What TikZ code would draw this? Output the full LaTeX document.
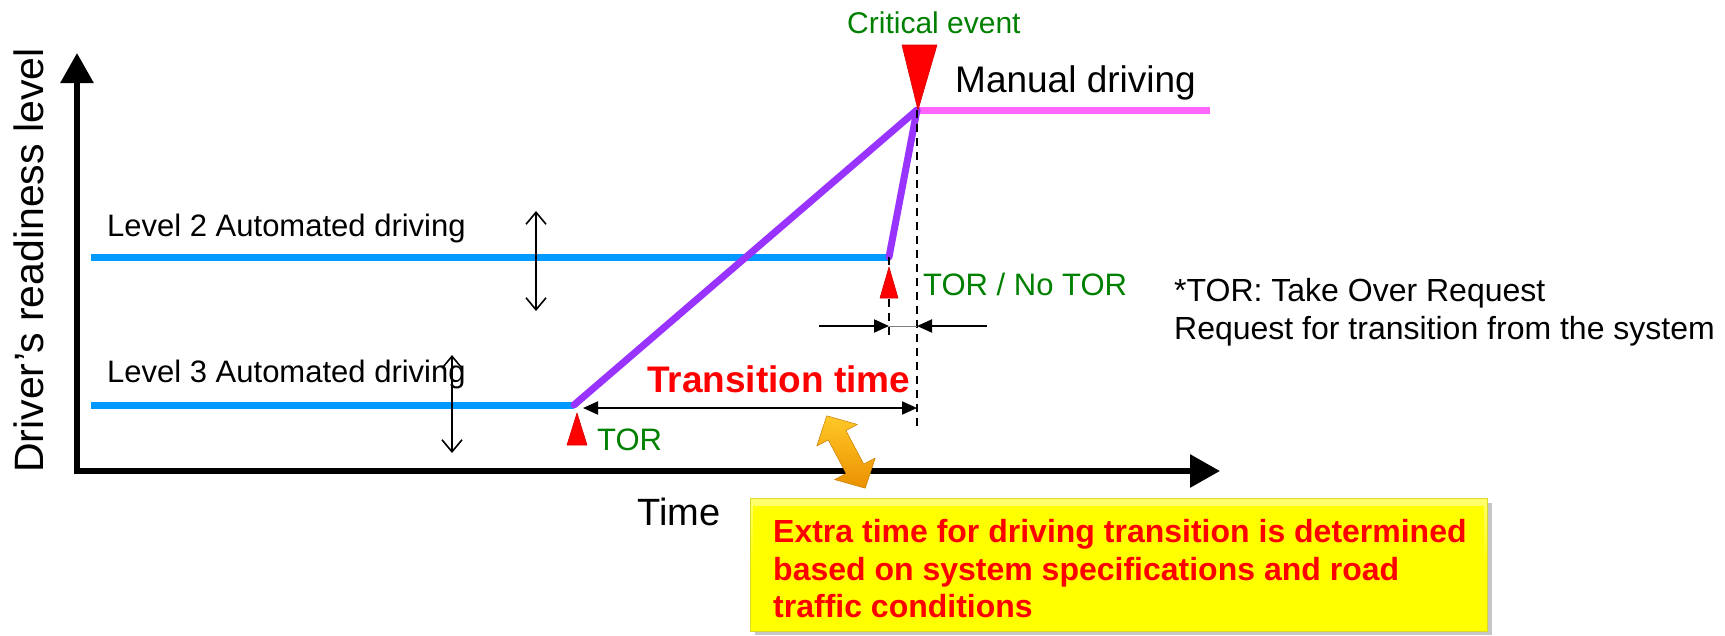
\documentclass[tikz,border=0pt]{standalone}
\usepackage{fontspec}
\setmainfont{Liberation Sans}
\usetikzlibrary{arrows.meta}
\definecolor{lvlblue}{RGB}{0,153,255}
\definecolor{trpurple}{RGB}{153,51,255}
\definecolor{manpink}{RGB}{255,102,255}
\definecolor{evgreen}{RGB}{0,128,0}
\definecolor{alertred}{RGB}{255,0,0}
\definecolor{boxyellow}{RGB}{255,255,0}
\definecolor{arrowlight}{RGB}{255,200,40}
\definecolor{arrowdark}{RGB}{235,145,0}
\begin{document}
\begin{tikzpicture}[x=1pt,y=-1pt,
  lbl/.style={inner sep=0pt, anchor=base west},
  axisline/.style={line width=6pt, line join=miter,
    {Triangle[width=32pt,length=30pt]}-{Triangle[width=32pt,length=30pt]}},
  levelline/.style={line width=7pt, lvlblue},
  purpleline/.style={line width=7pt, trpurple, line cap=round},
  manualline/.style={line width=7pt, manpink},
  guide/.style={line width=2pt, dash pattern=on 8pt off 6pt},
  dimarrow/.style={line width=2pt, {Triangle[width=13pt,length=15pt]}-{Triangle[width=13pt,length=15pt]}},
  inarrow/.style={line width=2pt, -{Triangle[width=13pt,length=15pt]}},
  rangearrow/.style={line width=1.6pt, {Straight Barb[width=20pt,length=12pt]}-{Straight Barb[width=20pt,length=12pt]}},
  marker/.style={fill=alertred, draw=alertred!85!black, line width=0.6pt, line join=round},
]
\useasboundingbox (0,0) rectangle (1725,635);

% axes
\coordinate (origin) at (77,471);
\coordinate (ytip) at (77,53);
\coordinate (xtip) at (1220,471);
\draw[axisline] (ytip) -- (origin) -- (xtip);

\node[lbl, rotate=90, font=\fontsize{41}{41}\selectfont] (ylabel) at (43,473) {Driver’s readiness level};
\node[lbl, font=\fontsize{38}{38}\selectfont] (xlabel) at (637,525) {Time};

% automation levels
\coordinate (l2start) at (91,257);
\coordinate (l2end) at (889,257);
\coordinate (l3start) at (91,405);
\coordinate (l3end) at (574,405);
\coordinate (handover) at (917,110);
\coordinate (manend) at (1210,110);

\draw[levelline] (l2start) -- (l2end);
\draw[levelline] (l3start) -- (l3end);
\draw[manualline] (handover) -- (manend);
\draw[purpleline] (l3end) -- (handover);
\draw[purpleline] (l2end) -- (handover);

\node[lbl, font=\fontsize{31}{31}\selectfont] (l2text) at (107,236) {Level 2 Automated driving};
\node[lbl, font=\fontsize{31}{31}\selectfont] (l3text) at (107,382) {Level 3 Automated driving};

% readiness ranges
\coordinate (r2top) at (536,211);
\coordinate (r2bot) at (536,311);
\coordinate (r3top) at (452,355);
\coordinate (r3bot) at (452,453);
\draw[rangearrow] (r2top) -- (r2bot);
\draw[rangearrow] (r3top) -- (r3bot);

% critical event
\draw[marker] (902,45) -- (937,45) -- (918,110) -- cycle;
\node[lbl, font=\fontsize{30}{30}\selectfont, text=evgreen] (crit) at (847,33) {Critical event};
\node[lbl, font=\fontsize{37}{37}\selectfont] (manual) at (955,92) {Manual driving};

% guide lines
\coordinate (g1top) at (917,110);
\coordinate (g1bot) at (917,427);
\coordinate (g2top) at (889,257);
\coordinate (g2bot) at (889,338);
\draw[guide] (g1top) -- (g1bot);
\draw[guide] (g2top) -- (g2bot);

% level 2 take over request
\draw[marker] (889,267) -- (898,298) -- (880,298) -- cycle;
\node[lbl, font=\fontsize{31}{31}\selectfont, text=evgreen] (tor2) at (923,295) {TOR / No TOR};
\coordinate (inL) at (819,326);
\coordinate (inLtip) at (889,326);
\coordinate (inR) at (987,326);
\coordinate (inRtip) at (917,326);
\draw[inarrow] (inL) -- (inLtip);
\draw[inarrow] (inR) -- (inRtip);
\draw[line width=1pt, gray] (inLtip) -- (inRtip);

% level 3 take over request and transition time
\draw[marker] (577,413) -- (587,445) -- (567,445) -- cycle;
\node[lbl, font=\fontsize{31}{31}\selectfont, text=evgreen] (tor3) at (597,450) {TOR};
\coordinate (tstart) at (583,408);
\coordinate (tend) at (917,408);
\draw[dimarrow] (tstart) -- (tend);
\node[lbl, font=\bfseries\fontsize{37}{37}\selectfont, text=alertred] (ttime) at (647,392) {Transition time};

% footnote
\node[lbl, font=\fontsize{32}{32}\selectfont] (fn1) at (1174,301) {*TOR: Take Over Request};
\node[lbl, font=\fontsize{32}{32}\selectfont] (fn2) at (1174,339) {Request for transition from the system};

% note box
\fill[gray!45] (755,503) rectangle (1492,635);
\shade[top color=boxyellow!55!white, bottom color=boxyellow, middle color=boxyellow]
  (750,498) rectangle (1487,631);
\fill[boxyellow] (753,506) rectangle (1484,631);
\draw[line width=0.8pt, boxyellow!70!gray] (750,498) rectangle (1487,631);
\node[lbl, font=\bfseries\fontsize{32}{32}\selectfont, text=alertred] (note1) at (773,542) {Extra time for driving transition is determined};
\node[lbl, font=\bfseries\fontsize{32}{32}\selectfont, text=alertred] (note2) at (773,580) {based on system specifications and road};
\node[lbl, font=\bfseries\fontsize{32}{32}\selectfont, text=alertred] (note3) at (773,617) {traffic conditions};

% link between transition time and note
\begin{scope}[shift={(846,452)}, rotate=-62]
  \shade[top color=arrowlight, bottom color=arrowdark, draw=arrowdark!85!black, line width=0.5pt, line join=round]
    (-41,0) -- (-19,23) -- (-19,10) -- (19,10) -- (19,23) -- (41,0)
    -- (19,-23) -- (19,-10) -- (-19,-10) -- (-19,-23) -- cycle;
\end{scope}
\end{tikzpicture}
\end{document}
